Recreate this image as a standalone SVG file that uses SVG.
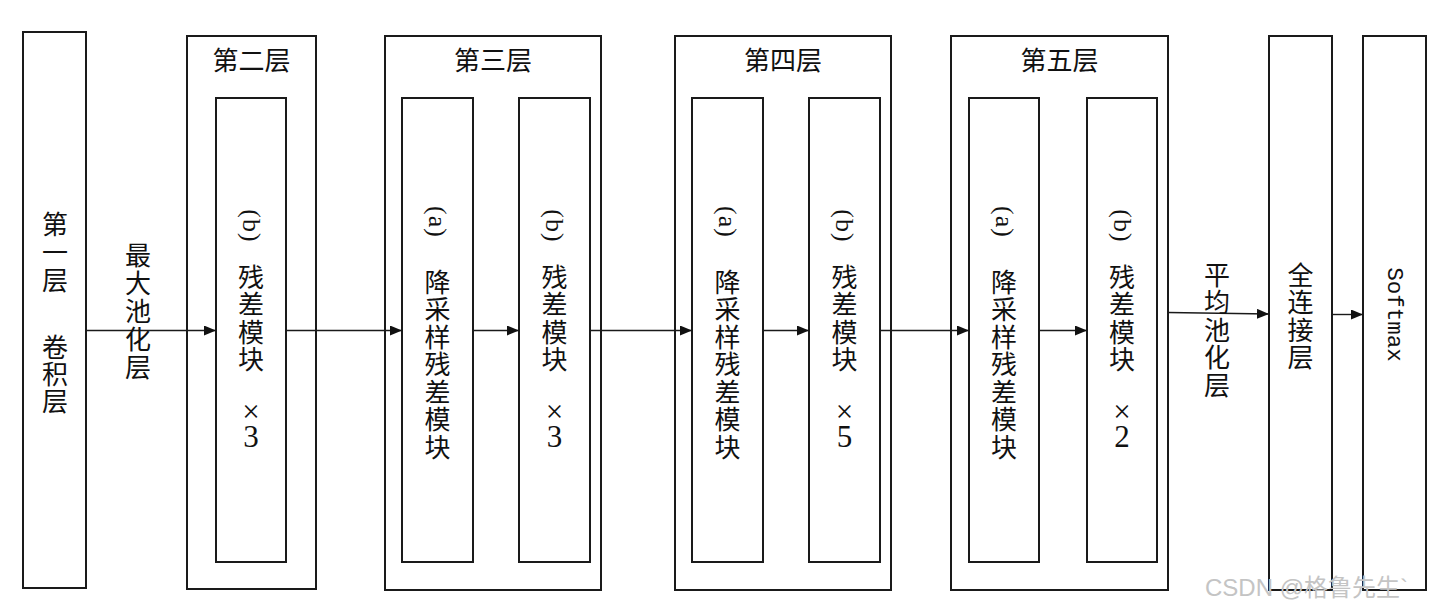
<svg xmlns="http://www.w3.org/2000/svg" width="1440" height="612" viewBox="0 0 1440 612">
<style>
.box{fill:#fff;stroke:#1a1a1a;stroke-width:2}
.inner{fill:none;stroke:#1a1a1a;stroke-width:2}
.cjk{font-family:"Noto Sans CJK SC","Noto Sans CJK TC",sans-serif;font-size:26px;fill:#111;text-anchor:middle;dominant-baseline:central}
.head{font-family:"Noto Sans CJK SC","Noto Sans CJK TC",sans-serif;font-size:26px;fill:#111;text-anchor:middle}
.lat{font-family:"Liberation Serif",serif;font-size:26px;fill:#111;text-anchor:middle;dominant-baseline:central;letter-spacing:1px}
.xn{font-family:"Liberation Serif",serif;font-size:31px;fill:#111;text-anchor:middle;dominant-baseline:central}
.mono{font-family:"Liberation Mono",monospace;font-size:22.5px;fill:#111;text-anchor:middle;dominant-baseline:central}
.conn line{stroke:#1a1a1a;stroke-width:1.4;fill:none}
.wm{font-family:"Liberation Sans","Noto Sans CJK SC",sans-serif;font-size:24px;fill:#c4c4c4}
</style>
<defs>
<marker id="ah" markerUnits="userSpaceOnUse" markerWidth="12" markerHeight="10" refX="12" refY="5" orient="auto">
<path d="M0,0 L12,5 L0,10 z" fill="#111"/>
</marker>
</defs>
<rect width="1440" height="612" fill="#fff"/>

<g id="layer1">
<rect class="box" x="23" y="32" width="63" height="556"/>
<text class="cjk" x="55 55 55 55 55 55" y="222 250 278 345 372 399">第一层卷积层</text>
</g>

<g id="layer2">
<rect class="box" x="187" y="36" width="129" height="553"/>
<text class="head" x="251.5" y="70">第二层</text>
<g id="layer2-b">
<rect class="inner" x="216" y="98" width="70" height="464"/>
<text class="lat" transform="translate(251,226) rotate(90)">(b)</text>
<text class="cjk" x="251 251 251 251" y="275 302.5 330 357.5">残差模块</text>
<text class="xn" x="251 251" y="411 436">×3</text>
</g>
</g>

<g id="layer3">
<rect class="box" x="385" y="36" width="216" height="554"/>
<text class="head" x="493" y="70">第三层</text>
<g id="layer3-a">
<rect class="inner" x="402" y="98" width="71" height="464"/>
<text class="lat" transform="translate(437.5,222) rotate(90)">(a)</text>
<text class="cjk" x="437.5 437.5 437.5 437.5 437.5 437.5 437.5" y="280 307.5 335 362.5 390 417.5 445">降采样残差模块</text>
</g>
<g id="layer3-b">
<rect class="inner" x="519" y="98" width="71" height="464"/>
<text class="lat" transform="translate(554.5,226) rotate(90)">(b)</text>
<text class="cjk" x="554.5 554.5 554.5 554.5" y="275 302.5 330 357.5">残差模块</text>
<text class="xn" x="554.5 554.5" y="411 436">×3</text>
</g>
</g>

<g id="layer4">
<rect class="box" x="675" y="36" width="216" height="554"/>
<text class="head" x="783" y="70">第四层</text>
<g id="layer4-a">
<rect class="inner" x="692" y="98" width="71" height="464"/>
<text class="lat" transform="translate(727.5,222) rotate(90)">(a)</text>
<text class="cjk" x="727.5 727.5 727.5 727.5 727.5 727.5 727.5" y="280 307.5 335 362.5 390 417.5 445">降采样残差模块</text>
</g>
<g id="layer4-b">
<rect class="inner" x="809" y="98" width="71" height="464"/>
<text class="lat" transform="translate(844.5,226) rotate(90)">(b)</text>
<text class="cjk" x="844.5 844.5 844.5 844.5" y="275 302.5 330 357.5">残差模块</text>
<text class="xn" x="844.5 844.5" y="411 436">×5</text>
</g>
</g>

<g id="layer5">
<rect class="box" x="951" y="36" width="217" height="554"/>
<text class="head" x="1059.5" y="70">第五层</text>
<g id="layer5-a">
<rect class="inner" x="969" y="98" width="70" height="464"/>
<text class="lat" transform="translate(1004,222) rotate(90)">(a)</text>
<text class="cjk" x="1004 1004 1004 1004 1004 1004 1004" y="280 307.5 335 362.5 390 417.5 445">降采样残差模块</text>
</g>
<g id="layer5-b">
<rect class="inner" x="1087" y="98" width="70" height="464"/>
<text class="lat" transform="translate(1122,226) rotate(90)">(b)</text>
<text class="cjk" x="1122 1122 1122 1122" y="275 302.5 330 357.5">残差模块</text>
<text class="xn" x="1122 1122" y="411 436">×2</text>
</g>
</g>

<g id="fc">
<rect class="box" x="1269" y="36" width="63" height="554"/>
<text class="cjk" x="1300.5 1300.5 1300.5 1300.5" y="273 300.5 328 355.5">全连接层</text>
</g>

<g id="softmax">
<rect class="box" x="1363" y="36" width="63" height="554"/>
<text class="mono" transform="translate(1393.5,314.5) rotate(90)">Softmax</text>
</g>

<g id="connectors" class="conn">
<line x1="86" y1="330.5" x2="216" y2="330.5" marker-end="url(#ah)"/>
<line x1="286" y1="330.5" x2="402" y2="330.5" marker-end="url(#ah)"/>
<line x1="473" y1="330.5" x2="519" y2="330.5" marker-end="url(#ah)"/>
<line x1="590" y1="330.5" x2="692" y2="330.5" marker-end="url(#ah)"/>
<line x1="763" y1="330.5" x2="809" y2="330.5" marker-end="url(#ah)"/>
<line x1="880" y1="330.5" x2="969" y2="330.5" marker-end="url(#ah)"/>
<line x1="1039" y1="330.5" x2="1087" y2="330.5" marker-end="url(#ah)"/>
<line x1="1168" y1="312.5" x2="1269" y2="314" marker-end="url(#ah)"/>
<line x1="1332" y1="314.5" x2="1363" y2="314.5" marker-end="url(#ah)"/>
</g>

<g id="labels">
<text class="cjk" x="138 138 138 138 138" y="253 281 309 337 365">最大池化层</text>
<text class="cjk" x="1217 1217 1217 1217 1217" y="273 300.5 328 355.5 383">平均池化层</text>
</g>

<text class="wm" x="1205" y="596">CSDN @格鲁先生`</text>
</svg>
